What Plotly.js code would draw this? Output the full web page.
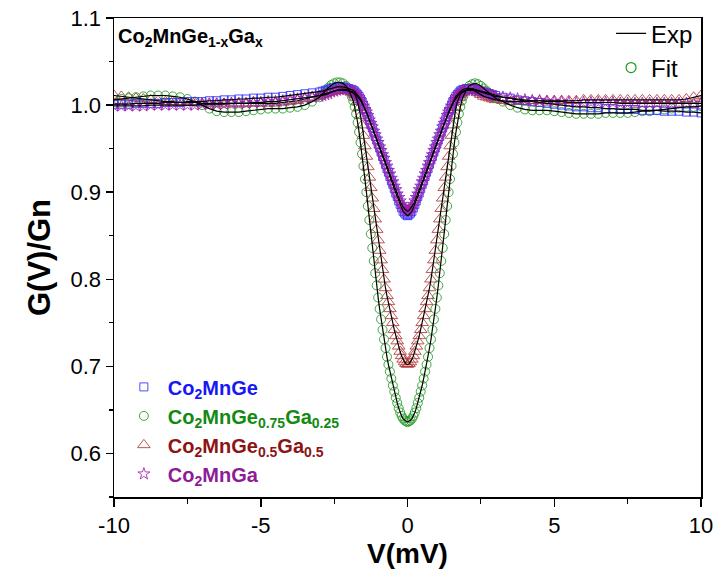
<!DOCTYPE html>
<html><head><meta charset="utf-8">
<script src="https://cdn.plot.ly/plotly-3.0.1.min.js"></script>
<style>html,body{margin:0;padding:0;background:#fff}#chart{width:723px;height:580px}</style>
</head><body><div id="chart"></div>
<script>
// Bias voltage grid (mV)
const vLeft = [-10,-9.75,-9.5,-9.25,-9,-8.75,-8.5,-8.25,-8,-7.75,-7.5,-7.25,-7,-6.75,-6.5,-6.25,-6,-5.75,-5.5,-5.25,-5,-4.75,-4.5,-4.25,-4,-3.75,-3.5,-3.25,-3,
  -2.9,-2.8,-2.7,-2.6,-2.5,-2.4,-2.3,-2.2,-2.1,-2.0,-1.9];
const vCore = [-1.85,-1.8,-1.75,-1.7,-1.65,-1.6,-1.55,-1.5,-1.45,-1.4,-1.35,-1.3,-1.25,-1.2,-1.15,-1.1,-1.05,-1,-0.95,-0.9,-0.85,-0.8,-0.75,-0.7,-0.65,-0.6,-0.55,-0.5,-0.45,-0.4,-0.35,-0.3,-0.25,-0.2,-0.15,-0.1,-0.05,
  0,
  0.05,0.1,0.15,0.2,0.25,0.3,0.35,0.4,0.45,0.5,0.55,0.6,0.65,0.7,0.75,0.8,0.85,0.9,0.95,1,1.05,1.1,1.15,1.2,1.25,1.3,1.35,1.4,1.45,1.5,1.55,1.6,1.65,1.7,1.75,1.8,1.85];
const vRight = [1.9,2.0,2.1,2.2,2.3,2.4,2.5,2.6,2.7,2.8,2.9,
  3,3.25,3.5,3.75,4,4.25,4.5,4.75,5,5.25,5.5,5.75,6,6.25,6.5,6.75,7,7.25,7.5,7.75,8,8.25,8.5,8.75,9,9.25,9.5,9.75,10];

// Co2MnGe (x = 0)
const geLeft = [1.001,1.001,1.001,1.002,1.002,1.002,1.002,1.003,1.003,1.003,1.004,1.004,1.004,1.005,1.005,1.006,1.006,1.007,1.007,1.008,1.008,1.009,1.009,1.010,1.011,1.012,1.013,1.014,1.015,
  1.016,1.017,1.018,1.019,1.020,1.021,1.021,1.021,1.020,1.019,1.018];
const geCore = [1.017,1.016,1.014,1.012,1.010,1.007,1.004,1.000,0.996,0.992,0.987,0.983,0.978,0.974,0.969,0.964,0.960,0.955,0.951,0.946,0.941,0.937,0.932,0.927,0.923,0.918,0.913,0.909,0.904,0.899,0.895,0.890,0.886,0.882,0.878,0.876,0.874,
  0.873,
  0.874,0.876,0.878,0.882,0.886,0.890,0.895,0.899,0.904,0.909,0.913,0.918,0.923,0.927,0.932,0.937,0.941,0.946,0.951,0.955,0.960,0.964,0.969,0.974,0.978,0.983,0.987,0.992,0.996,1.000,1.004,1.007,1.010,1.012,1.014,1.016,1.017];
const geRight = [1.018,1.019,1.019,1.019,1.018,1.017,1.016,1.015,1.014,1.013,1.012,
  1.011,1.009,1.008,1.006,1.005,1.004,1.003,1.002,1.001,1.000,0.999,0.998,0.998,0.997,0.997,0.996,0.996,0.995,0.995,0.995,0.994,0.994,0.994,0.993,0.993,0.993,0.992,0.992,0.991];

// Co2MnGe0.75Ga0.25
const g25Left = [1.006,1.007,1.008,1.009,1.010,1.011,1.011,1.011,1.010,1.009,1.007,1.004,1.000,0.996,0.993,0.992,0.992,0.992,0.993,0.994,0.995,0.996,0.996,0.996,0.997,0.998,1.000,1.004,1.009,
  1.012,1.016,1.020,1.023,1.025,1.026,1.026,1.025,1.022,1.017,1.010];
const g25Core = [1.005,0.998,0.990,0.980,0.969,0.957,0.944,0.930,0.915,0.900,0.884,0.868,0.852,0.836,0.821,0.807,0.793,0.779,0.766,0.754,0.742,0.731,0.721,0.711,0.702,0.694,0.686,0.678,0.671,0.664,0.658,0.652,0.647,0.643,0.640,0.638,0.637,
  0.636,
  0.637,0.638,0.640,0.643,0.647,0.652,0.658,0.664,0.671,0.678,0.686,0.694,0.702,0.711,0.721,0.731,0.742,0.754,0.766,0.779,0.793,0.807,0.821,0.836,0.852,0.868,0.884,0.900,0.915,0.930,0.944,0.957,0.969,0.980,0.990,0.998,1.005];
const g25Right = [1.010,1.017,1.022,1.024,1.025,1.024,1.022,1.019,1.016,1.013,1.010,
  1.008,1.004,1.000,0.997,0.995,0.994,0.994,0.994,0.993,0.992,0.991,0.990,0.990,0.990,0.990,0.991,0.991,0.991,0.991,0.992,0.993,0.993,0.994,0.995,0.996,0.997,0.998,0.998,0.999];

// Co2MnGe0.5Ga0.5
const g50Left = [1.011,1.010,1.009,1.008,1.007,1.006,1.005,1.004,1.004,1.003,1.003,1.003,1.002,1.002,1.002,1.002,1.002,1.002,1.002,1.002,1.002,1.002,1.002,1.003,1.004,1.005,1.007,1.009,1.011,
  1.012,1.013,1.014,1.015,1.016,1.017,1.017,1.017,1.017,1.016,1.015];
const g50Core = [1.014,1.012,1.009,1.004,0.997,0.988,0.977,0.965,0.953,0.941,0.929,0.917,0.905,0.893,0.881,0.869,0.857,0.845,0.833,0.822,0.811,0.800,0.790,0.781,0.774,0.766,0.758,0.750,0.742,0.735,0.729,0.723,0.717,0.712,0.708,0.705,0.703,
  0.702,
  0.703,0.705,0.708,0.712,0.717,0.723,0.729,0.735,0.742,0.750,0.758,0.766,0.774,0.781,0.790,0.800,0.811,0.822,0.833,0.845,0.857,0.869,0.881,0.893,0.905,0.917,0.929,0.941,0.953,0.965,0.977,0.988,0.997,1.004,1.009,1.012,1.014];
const g50Right = [1.015,1.017,1.017,1.017,1.016,1.014,1.012,1.010,1.009,1.008,1.007,
  1.006,1.005,1.004,1.004,1.004,1.005,1.005,1.005,1.005,1.005,1.005,1.005,1.006,1.006,1.006,1.006,1.006,1.006,1.006,1.006,1.006,1.006,1.006,1.006,1.006,1.006,1.007,1.009,1.011];

// Co2MnGa (x = 1)
const gaLeft = [0.999,0.999,0.999,0.999,0.999,1.000,1.000,1.000,1.000,1.000,1.000,1.000,1.001,1.001,1.001,1.001,1.002,1.002,1.002,1.003,1.003,1.004,1.004,1.005,1.006,1.007,1.008,1.009,1.010,
  1.011,1.012,1.013,1.015,1.016,1.017,1.018,1.018,1.018,1.017,1.016];
const gaCore = [1.015,1.014,1.012,1.010,1.008,1.005,1.002,0.999,0.995,0.992,0.988,0.983,0.979,0.975,0.970,0.966,0.961,0.957,0.952,0.948,0.943,0.939,0.934,0.930,0.925,0.921,0.916,0.912,0.907,0.903,0.898,0.894,0.890,0.886,0.883,0.881,0.879,
  0.878,
  0.879,0.881,0.883,0.886,0.890,0.894,0.898,0.903,0.907,0.912,0.916,0.921,0.925,0.930,0.934,0.939,0.943,0.948,0.952,0.957,0.961,0.966,0.970,0.975,0.979,0.983,0.988,0.992,0.995,0.999,1.002,1.005,1.008,1.010,1.012,1.014,1.015];
const gaRight = [1.016,1.017,1.018,1.018,1.017,1.016,1.015,1.014,1.013,1.012,1.011,
  1.010,1.009,1.008,1.007,1.006,1.005,1.005,1.004,1.004,1.004,1.003,1.003,1.003,1.003,1.003,1.003,1.003,1.002,1.002,1.002,1.002,1.002,1.002,1.002,1.002,1.002,1.002,1.002,1.002];

const seriesLabels = ['Co<sub>2</sub>MnGe', 'Co<sub>2</sub>MnGe<sub>0.75</sub>Ga<sub>0.25</sub>', 'Co<sub>2</sub>MnGe<sub>0.5</sub>Ga<sub>0.5</sub>', 'Co<sub>2</sub>MnGa'];
const panelLabel = 'Co<sub>2</sub>MnGe<sub>1-x</sub>Ga<sub>x</sub>';
const xTickVals = [-10, -5, 0, 5, 10];
const xTickText = ['-10', '-5', '0', '5', '10'];

const V = [].concat(vLeft, vCore, vRight);
const series = [
  {label: seriesLabels[0], y: [].concat(geLeft, geCore, geRight), color:'#2e2eff', text:'#1818f5', symbol:'square-open', size:8},
  {label: seriesLabels[1], y: [].concat(g25Left, g25Core, g25Right), color:'#229922', text:'#138a13', symbol:'circle-open', size:9},
  {label: seriesLabels[2], y: [].concat(g50Left, g50Core, g50Right), color:'#b03a3a', text:'#8c1414', symbol:'triangle-up-open', size:11},
  {label: seriesLabels[3], y: [].concat(gaLeft, gaCore, gaRight), color:'#a020a8', text:'#8e1c96', symbol:'star-open', size:9}
];
const FONT = 'Liberation Sans, Arial, Helvetica, sans-serif';
const drawOrder = [2, 1, 0, 3];
const traces = [];
drawOrder.forEach(i => {
  const s = series[i];
  traces.push({
    type:'scatter', mode:'markers', x:V, y:s.y, legend:'legend2', legendrank: i,
    name:'<span style="color:' + s.text + '">' + s.label + '</span>',
    marker:{symbol:s.symbol, size:s.size, color:s.color, opacity:0.85, line:{width:1, color:s.color}}
  });
});
series.forEach((s, i) => {
  traces.push({
    type:'scatter', mode:'lines', x:V, y:s.y, name:'Exp', legend:'legend', showlegend: i === 0, legendrank: 1,
    line:{color:'#000', width:1.2}
  });
});
traces.push({type:'scatter', mode:'markers', x:[null], y:[null], name:'Fit', legend:'legend', legendrank: 2,
  marker:{symbol:'circle-open', size:10, color:'#229922', line:{width:1.2}}});

const layout = {
  width:723, height:580,
  margin:{l:114, r:22, t:17, b:83},
  paper_bgcolor:'#fff', plot_bgcolor:'#fff',
  font:{family:FONT, color:'#000'},
  showlegend:true,
  xaxis:{range:[-10,10], tickmode:'array', tickvals:xTickVals, ticktext:xTickText, ticks:'outside', ticklen:8, tickwidth:1.5, tickcolor:'#000',
    showline:true, linewidth:1.5, linecolor:'#000', mirror:true, showgrid:false, zeroline:false,
    tickfont:{size:22}, minor:{tickmode:'linear', tick0:-7.5, dtick:5, ticks:'outside', ticklen:5, tickwidth:1.2, tickcolor:'#000', showgrid:false},
    title:{text:'<b>V(mV)</b>', font:{size:28}, standoff:4}},
  yaxis:{range:[0.55,1.1], tick0:0.6, dtick:0.1, tickformat:'.1f', ticks:'outside', ticklen:7, tickwidth:1.5, tickcolor:'#000',
    showline:true, linewidth:1.5, linecolor:'#000', mirror:true, showgrid:false, zeroline:false,
    tickfont:{size:22}, minor:{dtick:0.05, ticks:'outside', ticklen:4, tickwidth:1.2, tickcolor:'#000', showgrid:false},
    title:{text:'<b>G(V)/Gn</b>', font:{size:31}, standoff:10}},
  legend:{x:0.995, xanchor:'right', y:1.012, yanchor:'top', bgcolor:'rgba(0,0,0,0)', font:{size:24, family:FONT}, tracegroupgap:0},
  legend2:{x:0.01, xanchor:'left', y:0.27, yanchor:'top', bgcolor:'rgba(0,0,0,0)', font:{size:20, family:FONT, weight:'bold'}, tracegroupgap:0, traceorder:'normal', itemwidth:38},
  annotations:[{xref:'paper', yref:'paper', x:0.003, y:0.99, xanchor:'left', yanchor:'top', showarrow:false,
    text:'<b>' + panelLabel + '</b>', font:{size:20, family:FONT}}]
};
Plotly.newPlot('chart', traces, layout, {staticPlot:true});
</script></body></html>
